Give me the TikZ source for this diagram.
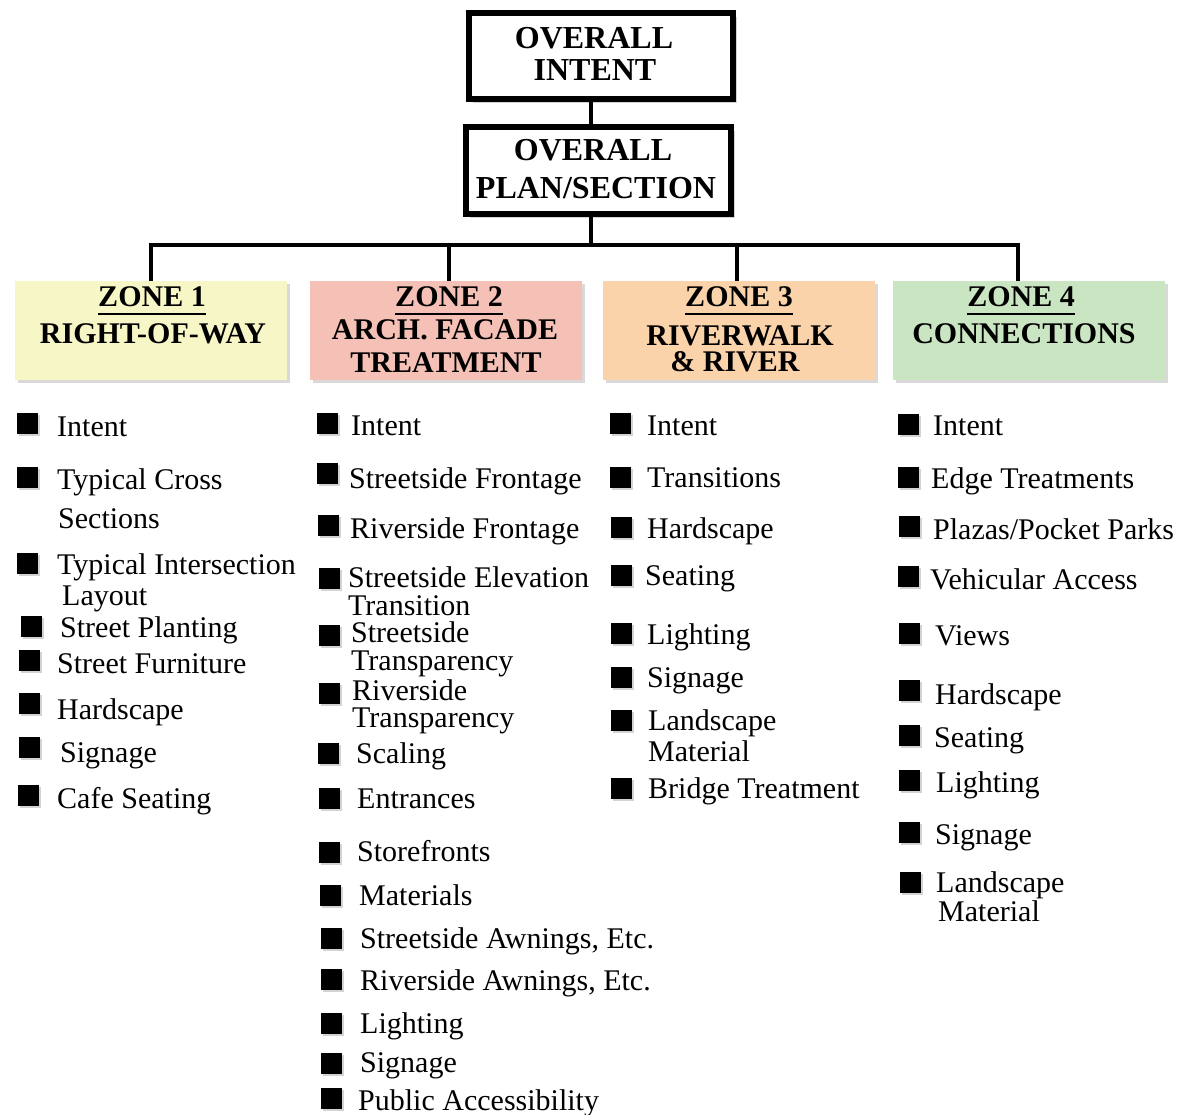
\documentclass[tikz,border=0pt]{standalone}
\usepackage{fontspec}
\setmainfont{Liberation Serif}
\usetikzlibrary{shadows}
\definecolor{zoneA}{HTML}{F7F6C7}
\definecolor{zoneB}{HTML}{F5C1B6}
\definecolor{zoneC}{HTML}{FBD3AB}
\definecolor{zoneD}{HTML}{CAE5C1}
\tikzset{
  topbox/.style={draw=black, line width=6pt, fill=white, rectangle, inner sep=0pt,
    drop shadow={shadow xshift=4pt, shadow yshift=-4pt, opacity=.35}},
  zonebox/.style={rectangle, inner sep=0pt, minimum width=272pt, minimum height=99pt,
    drop shadow={shadow xshift=3pt, shadow yshift=-3pt, opacity=.3}},
  conn/.style={draw=black, line width=3.5pt},
  toptxt/.style={anchor=base, inner sep=0pt, font=\fontsize{32}{32}\selectfont\bfseries},
  zonetxt/.style={anchor=base, inner sep=0pt, font=\fontsize{30}{30}\selectfont\bfseries},
  txt/.style={anchor=base west, inner sep=0pt, font=\fontsize{30}{30}\selectfont},
  bul/.style={rectangle, fill=black, inner sep=0pt, minimum size=21pt,
    drop shadow={shadow xshift=2pt, shadow yshift=-2.5pt, opacity=.35}}
}
\newcommand\itm[6]{\node[bul] (#1b) at (#2,#3) {}; \node[txt] (#1) at (#4,#5) {#6};}
\newcommand\lin[4]{\node[txt] (#1) at (#2,#3) {#4};}
\begin{document}
\begin{tikzpicture}[x=1pt,y=-1pt]
\useasboundingbox (0,0) rectangle (1178,1115);
% top boxes
\node[topbox, minimum width=264pt, minimum height=86pt] (ov) at (601,56) {};
\node[toptxt] (ov1) at (594,49) {OVERALL};
\node[toptxt] (ov2) at (595,81) {INTENT};
\node[topbox, minimum width=265pt, minimum height=87pt] (plan) at (598.5,170.5) {};
\node[toptxt] (pl1) at (593,161) {OVERALL};
\node[toptxt] (pl2) at (596,199) {PLAN/SECTION};
% zone boxes
\node[zonebox, fill=zoneA] (z1) at (151,330.5) {};
\node[zonebox, fill=zoneB] (z2) at (446,330.5) {};
\node[zonebox, fill=zoneC] (z3) at (738.5,330.5) {};
\node[zonebox, fill=zoneD] (z4) at (1029,330.5) {};
% connectors
\coordinate (bus) at (591,245);
\coordinate (d1) at (151,245);
\coordinate (d2) at (449,245);
\coordinate (d3) at (737,245);
\coordinate (d4) at (1018,245);
\draw[conn] (ov.south -| bus) -- (plan.north -| bus);
\draw[conn] (plan.south -| bus) -- (bus);
\draw[conn, line cap=rect] (d1) -- (d4);
\draw[conn] (d1) -- (d1 |- z1.north);
\draw[conn] (d2) -- (d2 |- z2.north);
\draw[conn] (d3) -- (d3 |- z3.north);
\draw[conn] (d4) -- (d4 |- z4.north);
% zone texts
\node[zonetxt] (z1a) at (152,307) {ZONE 1};
\node[zonetxt] (z1b) at (153,344) {RIGHT-OF-WAY};
\node[zonetxt] (z2a) at (449,307) {ZONE 2};
\node[zonetxt] (z2b) at (445,340) {ARCH. FACADE};
\node[zonetxt] (z2c) at (446,372) {TREATMENT};
\node[zonetxt] (z3a) at (739,307) {ZONE 3};
\node[zonetxt] (z3b) at (740,345) {RIVERWALK};
\node[zonetxt] (z3c) at (735,371) {\& RIVER};
\node[zonetxt] (z4a) at (1021,307) {ZONE 4};
\node[zonetxt] (z4b) at (1024,344) {CONNECTIONS};
\foreach \z in {z1a,z2a,z3a,z4a}{
  \draw[line width=2.5pt] ([yshift=-7pt]\z.base west) -- ([yshift=-7pt]\z.base east);
}
% column 1
\itm{c1a}{27}{423}{57}{436}{Intent}
\itm{c1b}{27}{477}{57}{489}{Typical Cross}
\lin{c1b2}{58}{528}{Sections}
\itm{c1c}{27}{563}{57}{574}{Typical Intersection}
\lin{c1c2}{62}{605}{Layout}
\itm{c1d}{31}{626}{60}{637}{Street Planting}
\itm{c1e}{29}{660}{57}{673}{Street Furniture}
\itm{c1f}{29}{703}{57}{719}{Hardscape}
\itm{c1g}{29}{747}{60}{762}{Signage}
\itm{c1h}{28}{795}{57}{808}{Cafe Seating}
% column 2
\itm{c2a}{327}{423}{351}{435}{Intent}
\itm{c2b}{327}{473}{349}{488}{Streetside Frontage}
\itm{c2c}{328}{525}{350}{538}{Riverside Frontage}
\itm{c2d}{329}{578}{348}{587}{Streetside Elevation}
\lin{c2d2}{348}{615}{Transition}
\itm{c2e}{329}{635}{351}{642}{Streetside}
\lin{c2e2}{351}{670}{Transparency}
\itm{c2f}{329}{693}{352}{700}{Riverside}
\lin{c2f2}{352}{727}{Transparency}
\itm{c2g}{328}{753}{356}{763}{Scaling}
\itm{c2h}{329}{798}{357}{808}{Entrances}
\itm{c2i}{329}{852}{357}{861}{Storefronts}
\itm{c2j}{330}{895}{359}{905}{Materials}
\itm{c2k}{331}{938}{360}{948}{Streetside Awnings, Etc.}
\itm{c2l}{331}{979}{360}{990}{Riverside Awnings, Etc.}
\itm{c2m}{331}{1023}{360}{1033}{Lighting}
\itm{c2n}{331}{1063}{360}{1072}{Signage}
\itm{c2o}{331}{1098}{358}{1110}{Public Accessibility}
% column 3
\itm{c3a}{620}{423}{647}{435}{Intent}
\itm{c3b}{620}{477}{647}{487}{Transitions}
\itm{c3c}{621}{527}{647}{538}{Hardscape}
\itm{c3d}{621}{575}{645}{585}{Seating}
\itm{c3e}{621}{633}{647}{644}{Lighting}
\itm{c3f}{621}{677}{647}{687}{Signage}
\itm{c3g}{621}{720}{648}{730}{Landscape}
\lin{c3g2}{648}{761}{Material}
\itm{c3h}{621}{788}{648}{798}{Bridge Treatment}
% column 4
\itm{c4a}{908}{424}{933}{435}{Intent}
\itm{c4b}{908}{477}{931}{488}{Edge Treatments}
\itm{c4c}{909}{526}{933}{539}{Plazas/Pocket Parks}
\itm{c4d}{908}{576}{930}{589}{Vehicular Access}
\itm{c4e}{909}{633}{935}{645}{Views}
\itm{c4f}{909}{690}{935}{704}{Hardscape}
\itm{c4g}{909}{735}{934}{747}{Seating}
\itm{c4h}{909}{780}{936}{792}{Lighting}
\itm{c4i}{909}{832}{935}{844}{Signage}
\itm{c4j}{910}{882}{936}{892}{Landscape}
\lin{c4j2}{938}{921}{Material}
\end{tikzpicture}
\end{document}
